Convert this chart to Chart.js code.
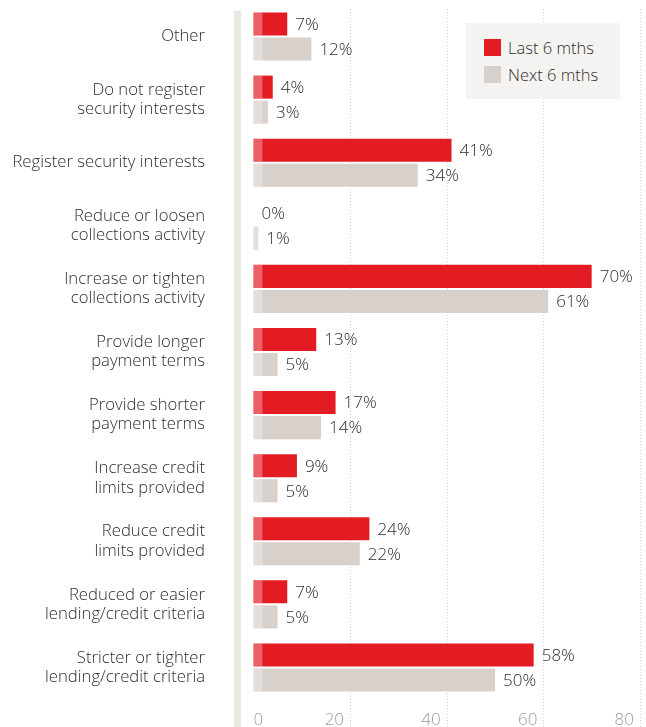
<!DOCTYPE html>
<html>
<head>
<meta charset="utf-8">
<script src="https://cdn.jsdelivr.net/npm/chart.js@4"></script>
<style>
  html, body { margin: 0; padding: 0; background: #fff; }
  #wrap { position: relative; width: 646px; height: 727px; }
  #legend {
    position: absolute; left: 466px; top: 23px; width: 154px; height: 76px;
    background: #f5f3f1; font: 300 16.5px "Open Sans", sans-serif; color: #2e2e2e;
  }
  #legend .item { position: absolute; left: 18px; height: 17px; line-height: 17px; white-space: nowrap; }
  #legend .sw { display: inline-block; width: 17px; height: 17px; vertical-align: top; margin-right: 7px; }
</style>
</head>
<body>
<div id="wrap">
  <canvas id="chart" width="646" height="727"></canvas>
  <div id="legend"></div>
</div>
<script>
"use strict";

var categories = [
  ['Other'],
  ['Do not register', 'security interests'],
  ['Register security interests'],
  ['Reduce or loosen', 'collections activity'],
  ['Increase or tighten', 'collections activity'],
  ['Provide longer', 'payment terms'],
  ['Provide shorter', 'payment terms'],
  ['Increase credit', 'limits provided'],
  ['Reduce credit', 'limits provided'],
  ['Reduced or easier', 'lending/credit criteria'],
  ['Stricter or tighter', 'lending/credit criteria']
];
var last_6_mths = [7, 4, 41, 0, 70, 13, 17, 9, 24, 7, 58];
var next_6_mths = [12, 3, 34, 1, 61, 5, 14, 5, 22, 5, 50];
var x_ticks = [0, 20, 40, 60, 80];

(function () {
  var decorations, build_legend, font_family;
  font_family = '"Open Sans", sans-serif';

  decorations = {
    id: 'decorations',
    beforeDatasetsDraw: function (chart) {
      var ctx = chart.ctx, area = chart.chartArea, x_scale = chart.scales.x;
      ctx.save();
      // thick light band standing in for the category axis
      ctx.fillStyle = '#ebe7e3';
      ctx.fillRect(area.left - 3, area.top + 6, 7, chart.height - area.top - 6);
      // dotted value gridlines, running down through the tick labels
      ctx.strokeStyle = '#d9d1cb';
      ctx.lineWidth = 1;
      ctx.setLineDash([1, 2]);
      x_ticks.forEach(function (v) {
        var x;
        if (v === 0) return;
        x = Math.round(x_scale.getPixelForValue(v)) + 0.5;
        ctx.beginPath();
        ctx.moveTo(x, area.top + 4);
        ctx.lineTo(x, chart.height);
        ctx.stroke();
      });
      ctx.restore();
    },
    afterDatasetsDraw: function (chart) {
      var ctx = chart.ctx;
      ctx.save();
      chart.data.datasets.forEach(function (ds, i) {
        chart.getDatasetMeta(i).data.forEach(function (bar, j) {
          var w, h = bar.height;
          // paler strip at the root of each bar
          w = Math.min(9, bar.x - bar.base);
          if (w > 0) {
            ctx.fillStyle = 'rgba(255, 255, 255, 0.3)';
            ctx.fillRect(bar.base, bar.y - h / 2, w, h);
          }
          ctx.fillStyle = '#2e2e2e';
          ctx.font = '300 17px ' + font_family;
          ctx.textAlign = 'left';
          ctx.textBaseline = 'middle';
          ctx.fillText(ds.data[j] + '%', Math.max(bar.x, bar.base) + 8, bar.y + 1);
        });
      });
      ctx.restore();
    },
    afterDraw: function (chart) {
      var ctx = chart.ctx, x_scale = chart.scales.x;
      ctx.save();
      ctx.fillStyle = '#a39a92';
      ctx.font = '300 17px ' + font_family;
      ctx.textBaseline = 'middle';
      x_ticks.forEach(function (v) {
        var x = x_scale.getPixelForValue(v);
        if (v === 0) {
          ctx.textAlign = 'left';
          ctx.fillText(String(v), x, chart.height - 7);
        } else {
          ctx.textAlign = 'right';
          ctx.fillText(String(v), x - 6, chart.height - 7);
        }
      });
      ctx.restore();
    }
  };

  build_legend = function (chart) {
    var $legend = document.getElementById('legend');
    chart.data.datasets.forEach(function (ds, i) {
      var item = document.createElement('div');
      item.className = 'item';
      item.style.top = (16 + i * 27) + 'px';
      item.innerHTML = '<span class="sw" style="background:' + ds.backgroundColor + '"></span>' + ds.label;
      $legend.appendChild(item);
    });
  };

  var chart = new Chart(document.getElementById('chart').getContext('2d'), {
    type: 'bar',
    data: {
      labels: categories,
      datasets: [{
        label: 'Last 6 mths',
        data: last_6_mths,
        backgroundColor: '#e31b23',
        borderWidth: 0
      }, {
        label: 'Next 6 mths',
        data: next_6_mths,
        backgroundColor: '#d8d0ca',
        borderWidth: 0
      }]
    },
    options: {
      indexAxis: 'y',
      responsive: false,
      animation: false,
      categoryPercentage: 50 / 63,
      barPercentage: 0.92,
      layout: {
        padding: { top: 5, bottom: 28, right: 6, left: 0 }
      },
      plugins: {
        legend: { display: false },
        tooltip: { enabled: false }
      },
      scales: {
        x: {
          display: false,
          min: -3.4,
          max: 80
        },
        y: {
          afterFit: function (scale) {
            scale.width = 237;
            // labels sit beside the bars, so no extra room above or below
            scale.paddingTop = 0;
            scale.paddingBottom = 0;
          },
          grid: { display: false, drawTicks: false },
          border: { display: false },
          ticks: {
            padding: 32,
            color: '#2e2e2e',
            font: { family: font_family, size: 16.7, weight: 300, lineHeight: 1.15 }
          }
        }
      }
    },
    plugins: [decorations]
  });
  build_legend(chart);
}).call(void 0);
</script>
</body>
</html>
